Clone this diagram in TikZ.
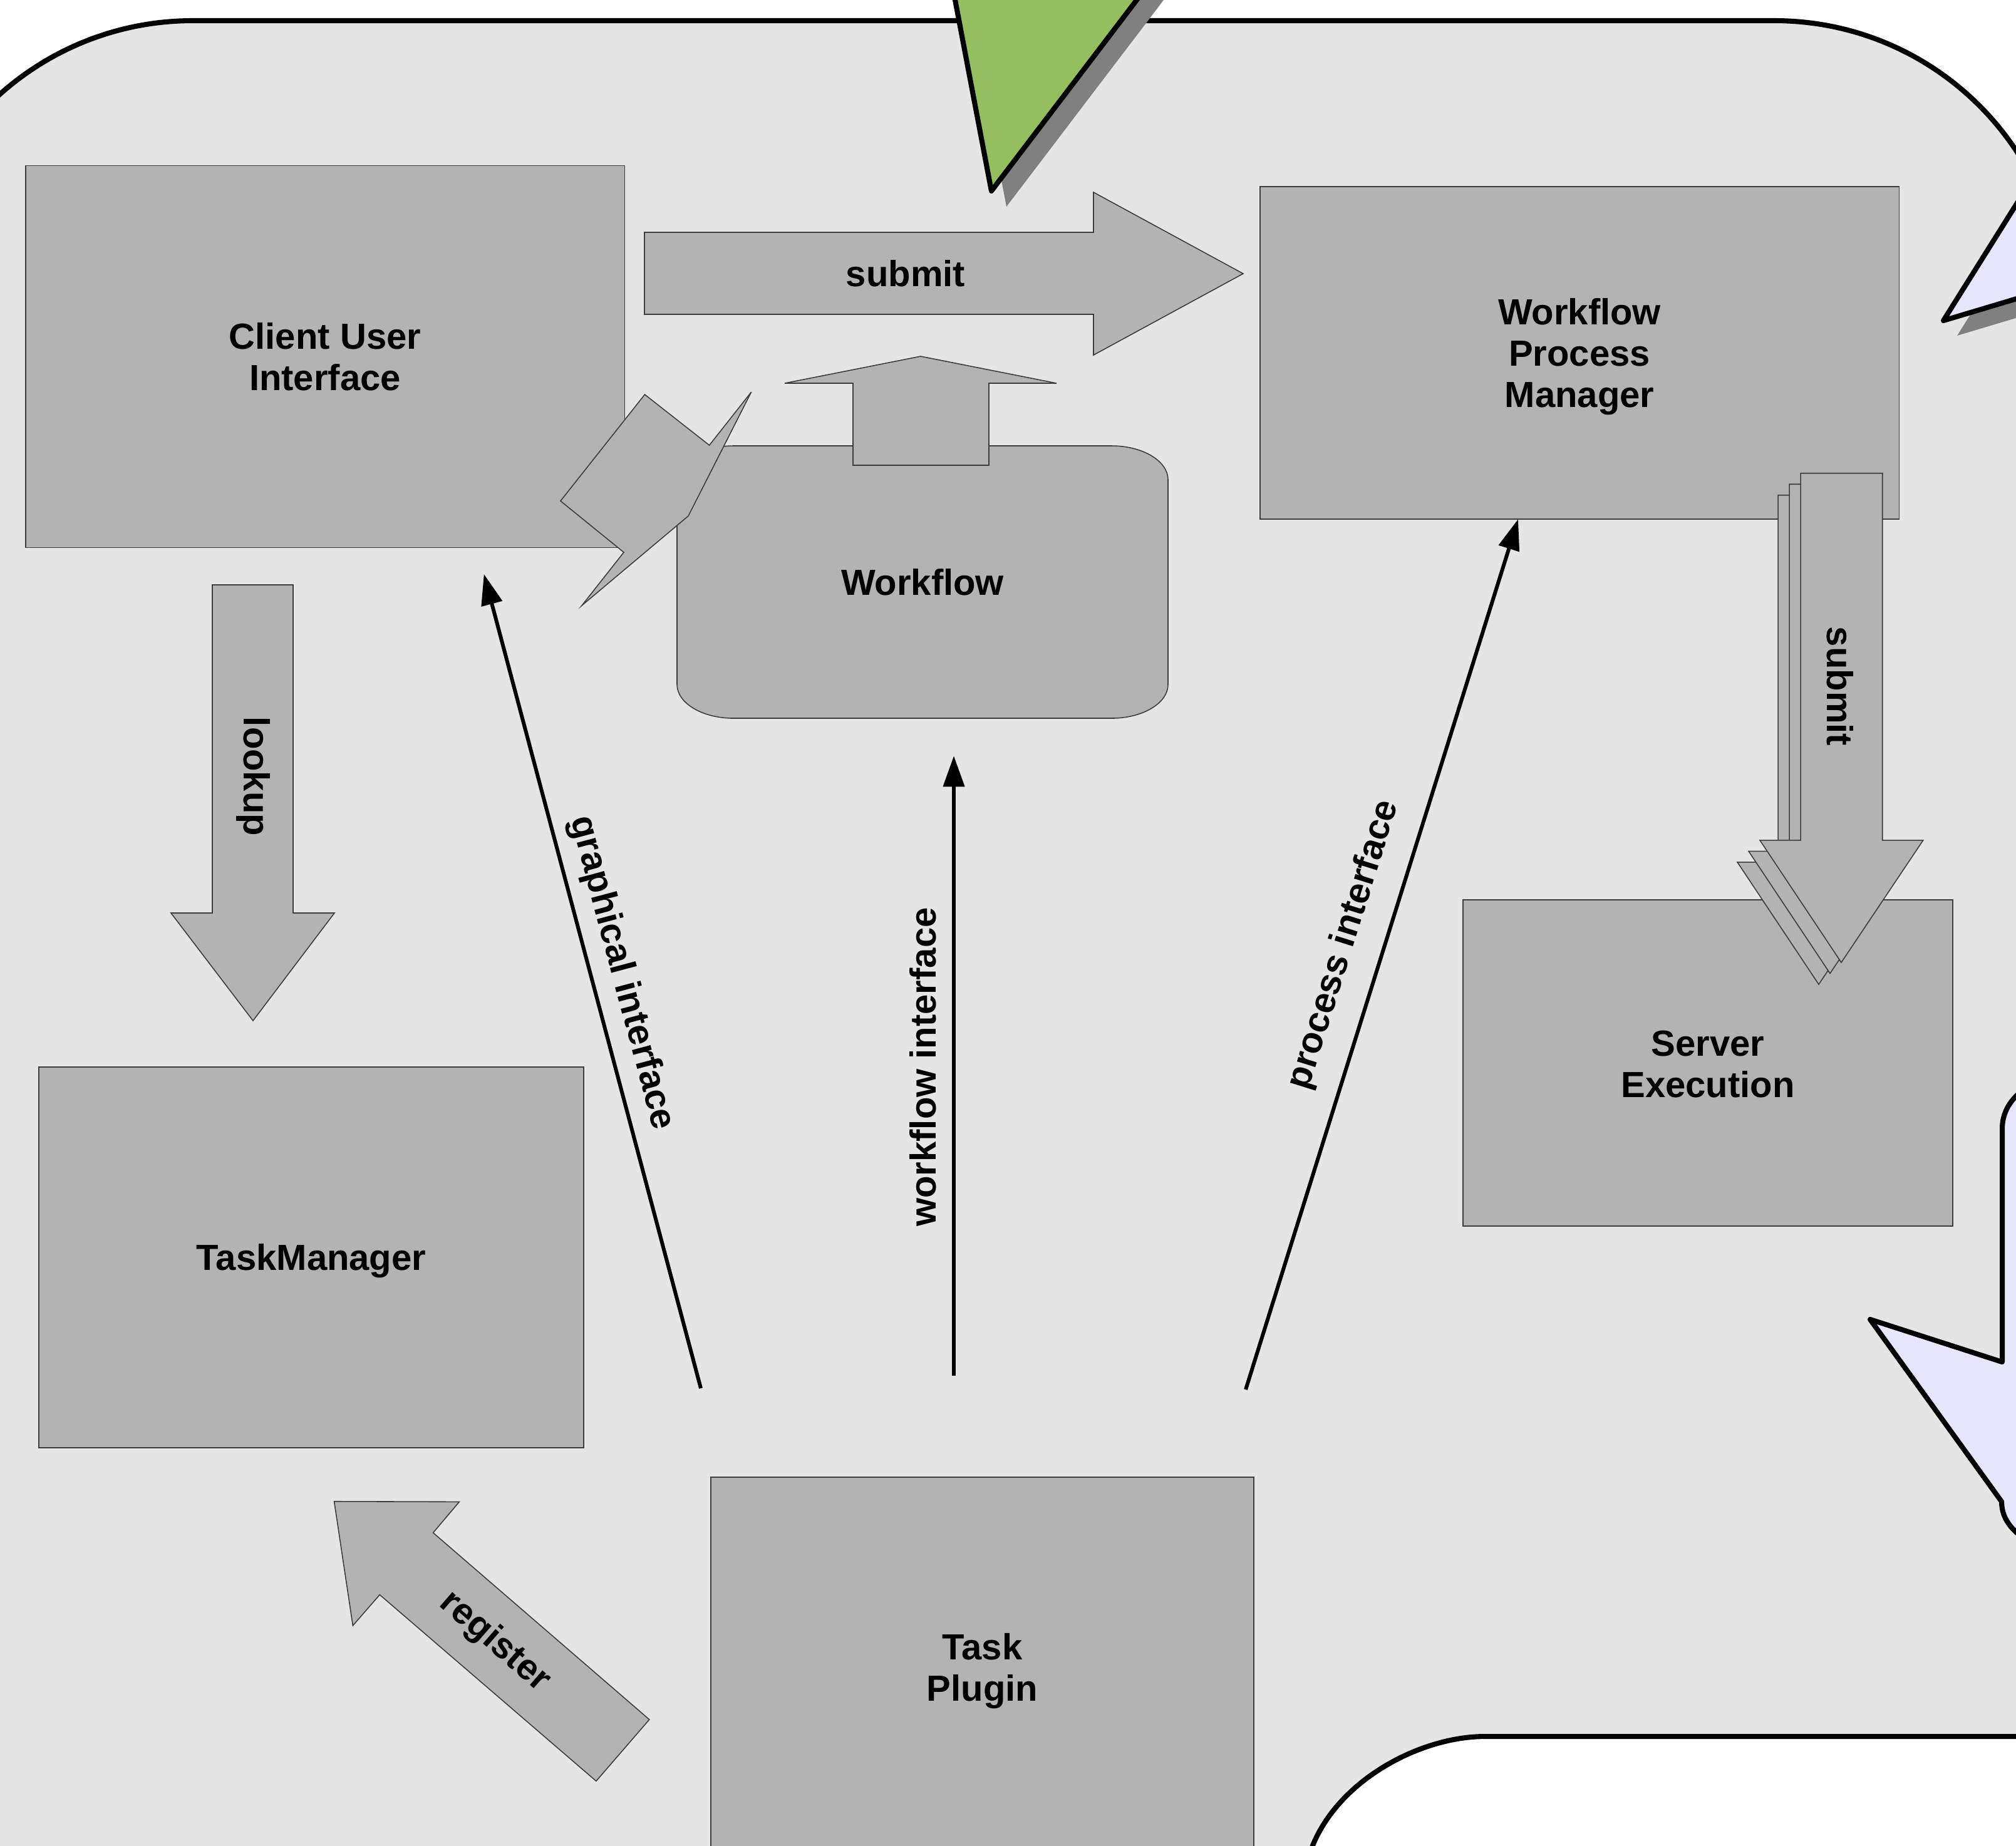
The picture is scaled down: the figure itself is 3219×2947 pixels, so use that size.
\documentclass[tikz,border=0pt]{standalone}
\usepackage{fontspec}
\setmainfont{Liberation Sans}
\usetikzlibrary{arrows.meta}
\definecolor{bg}{RGB}{229,229,229}
\definecolor{boxgray}{RGB}{179,179,179}
\definecolor{boxline}{RGB}{60,60,60}
\definecolor{lav}{RGB}{230,230,255}
\definecolor{grn}{RGB}{149,190,95}
\definecolor{shadowgray}{RGB}{128,128,128}
\begin{document}
\begin{tikzpicture}[x=0.01cm,y=-0.01cm,
  lbl/.style={font=\fontsize{16.5}{18.8}\selectfont\bfseries, align=center, inner sep=0pt, text=black},
  box/.style={fill=boxgray, draw=boxline, line width=0.45pt, inner sep=0pt},
  blockarrow/.style={fill=boxgray, draw=boxline, line width=0.45pt, line join=miter},
  outlined/.style={draw=black, line width=2.3pt, line join=round},
  conn/.style={draw=black, line width=1.7pt, -{Triangle[length=14pt,width=9.5pt]}},
]
\useasboundingbox (0,0) rectangle (3219,2947);
\clip (0,0) rectangle (3219,2947);
\fill[white] (0,0) rectangle (3219,2947);

% big background shape
\path[fill=bg, outlined] (-155,3100) -- (-155,496)
  .. controls (-155,240.3) and (52.3,33) .. (308,33) -- (2833,33)
  .. controls (3088.7,33) and (3296,240.3) .. (3296,496) -- (3296,3100) -- cycle;

% bottom-right white shape
\path[fill=white, outlined] (2080,3000) -- (2096,2947)
  .. controls (2140,2840) and (2270,2773) .. (2371,2773) -- (3300,2773) -- (3300,3000) -- cycle;

% green triangle with shadow
\fill[shadowgray] (1537.6,-35) -- (1884.6,-35) -- (1607,330) -- cycle;
\path[fill=grn, outlined] (1513.6,-60) -- (1860.6,-60) -- (1583,305) -- cycle;

% lavender pointer top right with shadow
\fill[shadowgray] (3125,536) -- (3262,317.5) -- (3262,495) -- cycle;
\path[fill=lav, outlined] (3103,512) -- (3240,293.5) -- (3240,471) -- cycle;

% lavender callout right
\path[fill=lav, outlined] (3270,1722) .. controls (3225,1735) and (3197,1765) .. (3197,1802)
  -- (3197,2175) -- (2986,2107) -- (3196,2398)
  .. controls (3196,2428) and (3215,2450) .. (3260,2475) -- (3300,2475) -- (3300,1722) -- cycle;

% boxes
\node[box, minimum width=9.56cm, minimum height=6.10cm] (cui) at (519,569.5) {};
\node[lbl] (cui-t) at (519,569.5) {Client User\\Interface};
\node[box, minimum width=10.20cm, minimum height=5.31cm] (wpm) at (2522,563.5) {};
\node[lbl] (wpm-t) at (2522,569.5) {Workflow\\Process\\Manager};
\node[box, minimum width=7.82cm, minimum height=5.21cm] (se) at (2727,1697.5) {};
\node[lbl] (se-t) at (2727,1699.5) {Server\\Execution};
\node[box, minimum width=8.70cm, minimum height=6.08cm] (tm) at (497,2008) {};
\node[lbl] (tm-t) at (497,2014) {TaskManager};
\node[box, minimum width=8.67cm, minimum height=6.08cm] (tp) at (1568.5,2663) {};
\node[lbl] (tp-t) at (1568.5,2669) {Task\\Plugin};

% workflow rounded box
\path[blockarrow] (1171,712) -- (1775,712)
  .. controls (1824.7,712) and (1865,736.2) .. (1865,766) -- (1865,1093)
  .. controls (1865,1122.8) and (1824.7,1147) .. (1775,1147) -- (1171,1147)
  .. controls (1121.3,1147) and (1081,1122.8) .. (1081,1093) -- (1081,766)
  .. controls (1081,736.2) and (1121.3,712) .. cycle;
\node[lbl] (wf) at (1473,930) {Workflow};

% up arrow from workflow
\path[blockarrow] (1362,743) -- (1362,612) -- (1253,612) -- (1470,569) -- (1687,612) -- (1579,612) -- (1579,743) -- cycle;

% lightning shape
\path[blockarrow] (1029.5,630) -- (1132.6,711) -- (1199.6,626) -- (1099,824) -- (929,967) -- (996,882) -- (895,800) -- cycle;

% submit horizontal arrow
\path[blockarrow] (1029,371) -- (1746,371) -- (1746,307) -- (1985,437) -- (1746,567) -- (1746,502) -- (1029,502) -- cycle;
\node[lbl] (submit1) at (1446,437) {submit};

% lookup arrow
\path[blockarrow] (339,934) -- (468,934) -- (468,1458) -- (534,1458) -- (404,1630) -- (273,1458) -- (339,1458) -- cycle;
\node[lbl, rotate=-90] (lookup) at (404,1240) {lookup};

% register arrow
\path[blockarrow] (533.6,2397.7) -- (733.3,2398.3) -- (691.6,2447.7) -- (1036.8,2746) -- (951.9,2844.3) -- (606.3,2546.7) -- (563.4,2596) -- cycle;
\node[lbl, rotate=-41] (register) at (790,2622) {register};

% stacked submit arrow
\foreach \dx/\dy in {-36/35, -18/17.5, 0/0} {
  \begin{scope}[shift={(\dx,\dy)}]
    \path[blockarrow] (2875,755.7) -- (3005.7,755.7) -- (3005.7,1341.8) -- (3070.7,1341.8) -- (2940,1537) -- (2810,1341.8) -- (2875,1341.8) -- cycle;
  \end{scope}
}
\node[lbl, rotate=-90] (submit2) at (2938,1096) {submit};

% connectors
\coordinate (gi-s) at (1119,2217);
\coordinate (gi-e) at (772.7,916.7);
\coordinate (wi-s) at (1523,2197);
\coordinate (wi-e) at (1523,1207);
\coordinate (pi-s) at (1989,2219);
\coordinate (pi-e) at (2424,829);
\draw[conn] (gi-s) -- (gi-e);
\draw[conn] (wi-s) -- (wi-e);
\draw[conn] (pi-s) -- (pi-e);
\node[lbl, rotate=-75.1] (gil) at (992,1554) {graphical interface};
\node[lbl, rotate=90] (wil) at (1474,1704) {workflow interface};
\node[lbl, rotate=72.6] (pil) at (2146,1509) {process interface};
\end{tikzpicture}
\end{document}
